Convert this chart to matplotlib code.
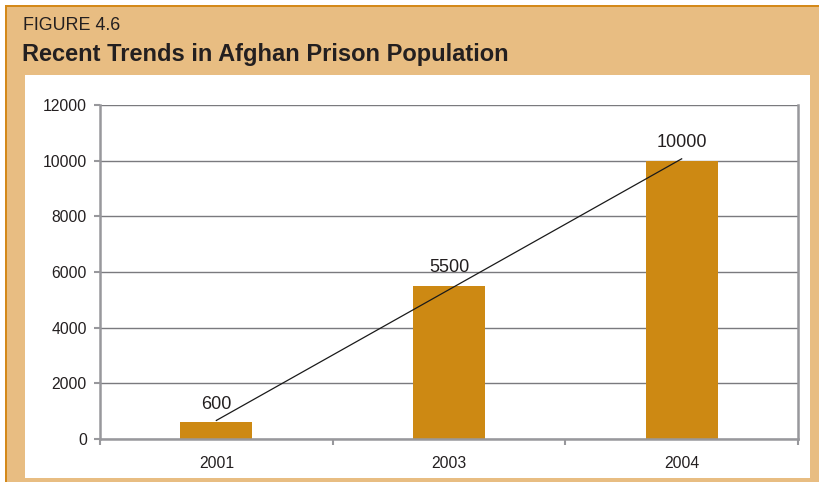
import numpy as np
import matplotlib
matplotlib.use("Agg")
import matplotlib.pyplot as plt
from matplotlib.patches import Rectangle

years = ["2001", "2003", "2004"]
prisoners = [600, 5500, 10000]
y_ticks = [0, 2000, 4000, 6000, 8000, 10000, 12000]

W, H = 820, 482
DPI = 100
TAN = "#E8BD82"
EDGE = "#D4891A"
BAR = "#CD8913"
GRID = "#7A7A7E"
SPINE = "#98989C"
TEXT = "#231F20"

plt.rcParams["font.family"] = ["Liberation Sans", "DejaVu Sans"]

fig = plt.figure(figsize=(W / DPI, H / DPI), dpi=DPI)
fig.patch.set_facecolor("white")

def px_rect(x0, y0, x1, y1, **kw):
    # rectangle given in figure pixel coordinates measured from the top-left
    return Rectangle((x0 / W, 1 - y1 / H), (x1 - x0) / W, (y1 - y0) / H,
                     transform=fig.transFigure, **kw)

# tan frame with a darker orange rule along top and left
fig.patches.append(px_rect(5, 5, W + 20, H + 20, facecolor=TAN, edgecolor="none",
                           linewidth=0, zorder=0))
fig.patches.append(px_rect(5, 5, W + 20, 7, facecolor=EDGE, edgecolor="none",
                           linewidth=0, zorder=1))
fig.patches.append(px_rect(5, 5, 7, H + 20, facecolor=EDGE, edgecolor="none",
                           linewidth=0, zorder=1))
fig.patches.append(px_rect(25, 75, 810, 478, facecolor="white", edgecolor="none",
                           linewidth=0, zorder=1))

fig.text(23 / W, 1 - 26 / H, "FIGURE 4.6", fontsize=12.9, color=TEXT,
         ha="left", va="center")
fig.text(22 / W, 1 - 54 / H, "Recent Trends in Afghan Prison Population",
         fontsize=17, fontweight="bold", color=TEXT, ha="left", va="center")

ax_l, ax_r, ax_t, ax_b = 100, 798, 105, 439
ax = fig.add_axes([ax_l / W, 1 - ax_b / H, (ax_r - ax_l) / W, (ax_b - ax_t) / H])
ax.set_facecolor("none")
ax.set_zorder(2)

x = np.arange(len(years))
ax.bar(x, prisoners, width=0.31, color=BAR, zorder=2)

# linear trend line across the bars
coef = np.polyfit(x, prisoners, 1)
ax.plot(x, np.polyval(coef, x), color="#1A1A1A", linewidth=0.9, zorder=3)

for xi, v in zip(x, prisoners):
    ax.annotate(str(v), (xi, v), xytext=(0, 9.8), textcoords="offset points",
                ha="center", va="baseline", fontsize=13, color=TEXT, zorder=4)

ax.set_xlim(-0.5, len(years) - 0.5)
ax.set_ylim(0, 12000)
ax.set_yticks(y_ticks)
ax.set_yticklabels([str(t) for t in y_ticks])
ax.yaxis.grid(True, color=GRID, linewidth=1.0, zorder=1)
ax.set_axisbelow(True)

ax.set_xticks(x)
ax.set_xticklabels(years)
ax.set_xticks(np.arange(-0.5, len(years)), minor=True)
ax.tick_params(axis="x", which="major", length=0, pad=12, labelsize=11.3, labelcolor=TEXT)
ax.tick_params(axis="x", which="minor", length=4, width=1.5, color=SPINE, direction="out")
ax.tick_params(axis="y", length=4, width=1.5, color=SPINE, pad=5.5, labelsize=11.3,
               labelcolor=TEXT, direction="out")

for side in ["left", "bottom", "right"]:
    ax.spines[side].set_color(SPINE)
    ax.spines[side].set_linewidth(1.8)
ax.spines["top"].set_visible(False)

fig.savefig("out.png", dpi=DPI, facecolor=fig.get_facecolor())
